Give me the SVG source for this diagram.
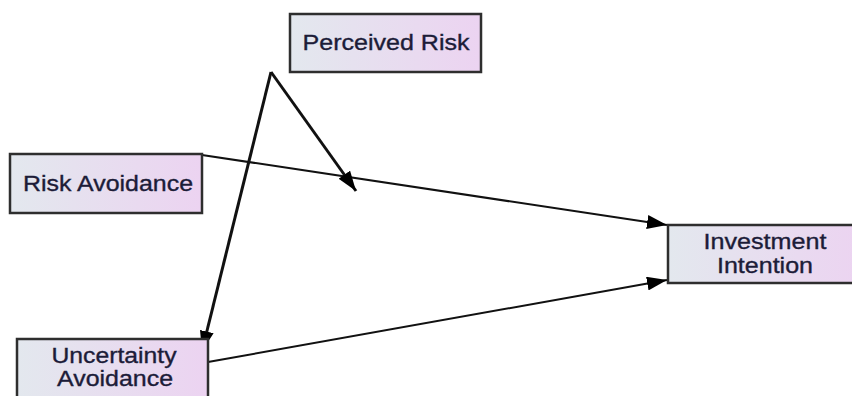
<svg xmlns="http://www.w3.org/2000/svg" width="852" height="396" viewBox="0 0 852 396">
<defs>
<linearGradient id="g" x1="0" y1="0" x2="1" y2="0">
<stop offset="0" stop-color="#e3e8ee"/>
<stop offset="1" stop-color="#ecd3f1"/>
</linearGradient>
<marker id="ah" viewBox="0 0 20 14" refX="20" refY="7" markerWidth="20" markerHeight="14" markerUnits="userSpaceOnUse" orient="auto">
<path d="M0,0 L20,7 L0,14 Z" fill="#000"/>
</marker>
</defs>
<style>
.box{fill:url(#g);stroke:#2e2e2e;stroke-width:2.5}
.t{font-family:"Liberation Sans",Arial,sans-serif;font-size:22px;fill:#1c1c38;stroke:#1c1c38;stroke-width:0.35;text-anchor:middle}
.c{fill:none;stroke:#111;}
</style>
<rect width="852" height="396" fill="#fff"/>
<g id="connectors">
<path class="c" stroke-width="2" d="M202,155 L667,225" marker-end="url(#ah)"/>
<path class="c" stroke-width="2" d="M208,362 L667,280" marker-end="url(#ah)"/>
<path class="c" stroke-width="3" d="M271,72 L356,191" marker-end="url(#ah)"/>
<path class="c" stroke-width="3" d="M271,72 L202,351" marker-end="url(#ah)"/>
</g>
<g id="perceived-risk">
<rect class="box" x="290" y="14" width="191" height="58"/>
<text class="t" x="386" y="50" textLength="167" lengthAdjust="spacingAndGlyphs">Perceived Risk</text>
</g>
<g id="risk-avoidance">
<rect class="box" x="10" y="154" width="192" height="59"/>
<text class="t" x="108" y="191" textLength="170" lengthAdjust="spacingAndGlyphs">Risk Avoidance</text>
</g>
<g id="uncertainty-avoidance">
<rect class="box" x="17" y="339" width="191" height="70"/>
<text class="t" x="114" y="363" textLength="125" lengthAdjust="spacingAndGlyphs">Uncertainty</text>
<text class="t" x="115" y="386" textLength="116" lengthAdjust="spacingAndGlyphs">Avoidance</text>
</g>
<g id="investment-intention">
<rect class="box" x="668" y="225" width="196" height="58"/>
<text class="t" x="765" y="249" textLength="123" lengthAdjust="spacingAndGlyphs">Investment</text>
<text class="t" x="765" y="273" textLength="96" lengthAdjust="spacingAndGlyphs">Intention</text>
</g>
</svg>
